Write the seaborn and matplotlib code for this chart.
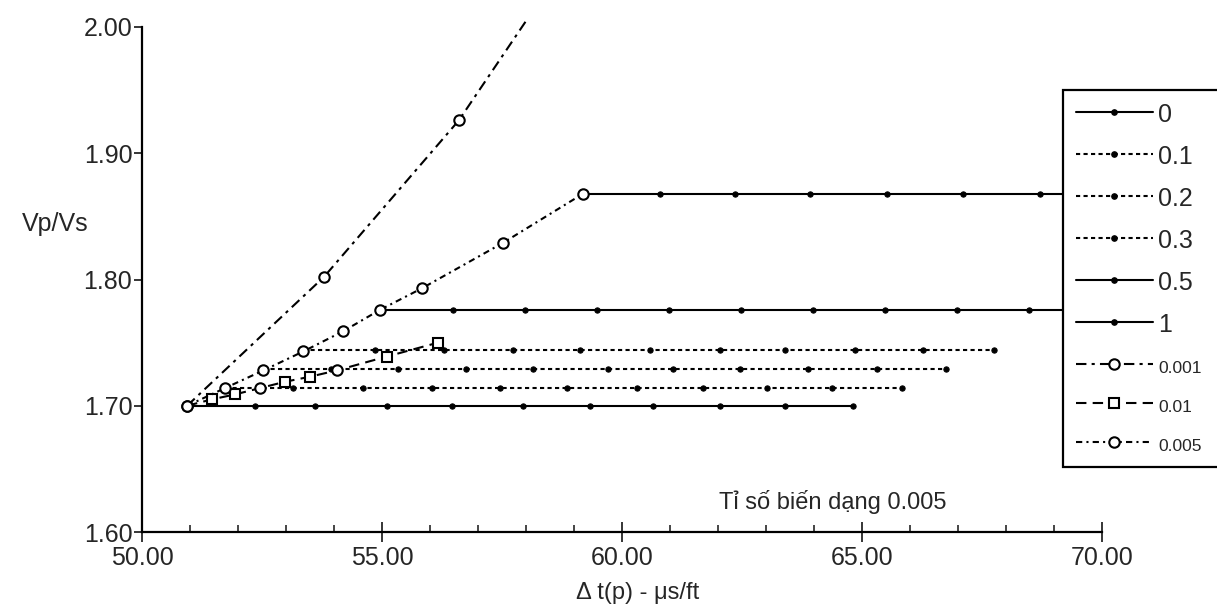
import seaborn as sns
import matplotlib.pyplot as plt
from matplotlib.lines import Line2D
from matplotlib.ticker import MultipleLocator, FormatStrFormatter

# saturation lines: Vp/Vs level and the dt(p) positions of the dots on them
sat_labels = ['0', '0.1', '0.2', '0.3', '0.5', '1']
sat_levels = [1.700, 1.714, 1.729, 1.744, 1.776, 1.868]
sat_x = [
    [50.94, 52.35, 53.60, 55.10, 56.46, 57.94, 59.33, 60.65, 62.04, 63.40, 64.81],
    [51.73, 53.15, 54.60, 56.05, 57.46, 58.85, 60.31, 61.69, 63.02, 64.38, 65.83],
    [52.53, 53.93, 55.34, 56.75, 58.15, 59.71, 61.06, 62.46, 63.88, 65.31, 66.75],
    [53.36, 54.85, 56.30, 57.73, 59.13, 60.58, 62.04, 63.40, 64.85, 66.27, 67.75],
    [54.96, 56.48, 57.98, 59.48, 60.98, 62.48, 63.98, 65.48, 66.98, 68.48, 69.98],
    [59.19, 60.79, 62.35, 63.92, 65.52, 67.10, 68.71, 70.30],
]

# aspect ratio curves
ar001_x = [50.94, 53.79, 56.60, 58.04]
ar001_y = [1.700, 1.802, 1.926, 2.007]
ar01_x = [50.94, 51.45, 51.94, 52.46, 52.98, 53.50, 54.06, 55.10, 56.17]
ar01_y = [1.700, 1.705, 1.709, 1.714, 1.719, 1.723, 1.728, 1.739, 1.750]
ar005_x = [50.94, 51.73, 52.53, 53.36, 54.19, 54.96, 55.83, 57.52, 59.19]
ar005_y = [1.700, 1.714, 1.728, 1.743, 1.759, 1.776, 1.793, 1.829, 1.868]

sns.set_style('ticks')
plt.rcParams['font.family'] = ['Liberation Sans', 'DejaVu Sans']

fig = plt.figure(figsize=(12.17, 6.08), dpi=100)
ax = fig.add_axes([142 / 1217, 76 / 608, 960 / 1217, 505 / 608])

solid = '-'
dotted = (0, (2, 1.6))
sat_styles = [solid, dotted, dotted, dotted, solid, solid]
dot_kw = dict(color='black', lw=1.5, marker='o', markersize=3.8,
              markerfacecolor='black', markeredgecolor='black')

for xs, lvl, ls in zip(sat_x, sat_levels, sat_styles):
    sns.lineplot(x=xs, y=[lvl] * len(xs), ax=ax, linestyle=ls, **dot_kw)

open_kw = dict(color='black', lw=1.5, markersize=7.5, markerfacecolor='white',
               markeredgecolor='black', markeredgewidth=1.5)
ls001 = (0, (5, 2.5, 1.5, 2.5))
ls01 = (0, (5, 3))
ls005 = (0, (3, 2, 1, 2))

sns.lineplot(x=ar001_x, y=ar001_y, ax=ax, linestyle=ls001, marker='o',
             markevery=[0, 1, 2], clip_on=False, **open_kw)
sns.lineplot(x=ar01_x, y=ar01_y, ax=ax, linestyle=ls01, marker='s',
             markevery=[1, 2, 4, 5, 7, 8], **open_kw)
sns.lineplot(x=ar01_x, y=ar01_y, ax=ax, linestyle='none', marker='o',
             markevery=[3, 6], **open_kw)
sns.lineplot(x=ar005_x, y=ar005_y, ax=ax, linestyle=ls005, marker='o', **open_kw)

ax.set_xlim(50, 70)
ax.set_ylim(1.6, 2.0)
ax.xaxis.set_major_locator(MultipleLocator(5))
ax.xaxis.set_minor_locator(MultipleLocator(1))
ax.yaxis.set_major_locator(MultipleLocator(0.1))
ax.xaxis.set_major_formatter(FormatStrFormatter('%.2f'))
ax.yaxis.set_major_formatter(FormatStrFormatter('%.2f'))
ax.tick_params(axis='x', which='major', direction='inout', length=14, width=1.3,
               labelsize=18, pad=3)
ax.tick_params(axis='x', which='minor', direction='in', length=5, width=1.2)
ax.tick_params(axis='y', which='major', direction='out', length=6, width=1.3,
               labelsize=18, pad=1)
sns.despine(ax=ax)
for s in ['left', 'bottom']:
    ax.spines[s].set_linewidth(1.6)
    ax.spines[s].set_color('black')

ax.set_xlabel('\u0394 t(p) - \u03bcs/ft', fontsize=17)
ax.xaxis.set_label_coords(0.516, -0.1)
ax.set_ylabel('Vp/Vs', fontsize=18, rotation=0, va='center')
ax.yaxis.set_label_coords(-0.09, 0.61)

ax.text(64.4, 1.624, 'Tỉ số biến dạng 0.005', fontsize=17, ha='center', va='center')

# legend
handles = []
for ls in sat_styles:
    handles.append(Line2D([], [], linestyle=ls, **dot_kw))
handles.append(Line2D([], [], linestyle=ls001, marker='o', **open_kw))
handles.append(Line2D([], [], linestyle=ls01, marker='s', **open_kw))
handles.append(Line2D([], [], linestyle=ls005, marker='o', **open_kw))
labels = sat_labels + ['0.001', '0.01', '0.005']

leg = ax.legend(handles, labels, loc='upper left',
                bbox_to_anchor=(1063 / 1217, 1 - 90 / 608, 0.3, 0.0),
                bbox_transform=fig.transFigure, mode='expand',
                fontsize=18, handlelength=3.1, handleheight=0.8, handletextpad=0.2,
                labelspacing=0.72, borderpad=0.5, borderaxespad=0,
                fancybox=False, framealpha=1, edgecolor='black', numpoints=1)
leg.get_frame().set_linewidth(1.6)
for t in leg.get_texts()[6:]:
    t.set_fontsize(12.5)

fig.savefig('out.png', dpi=100)
